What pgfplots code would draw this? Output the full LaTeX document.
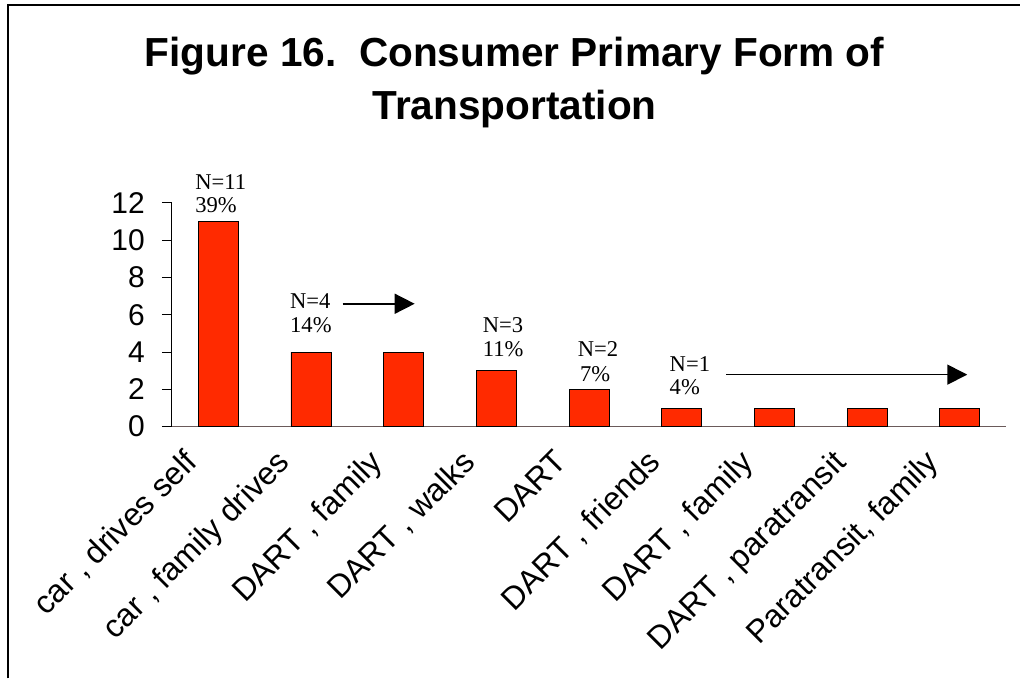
\documentclass[border=0pt]{standalone}
\usepackage{fontspec}
\setmainfont{Liberation Sans}
\newfontfamily\timesfont{Liberation Serif}
\usepackage{pgfplots}
\pgfplotsset{compat=1.18}
\usetikzlibrary{arrows.meta}

\definecolor{barred}{HTML}{FF2A00}
\definecolor{axisgray}{HTML}{6A5A5A}

\begin{document}
\begin{tikzpicture}
% page = 1021 x 679 px, 1px = 0.5pt, origin top left
\path (0,0) rectangle (510.5pt,-339.5pt);
\draw[line width=0.8pt] (3.9pt,-339.5pt) -- (3.9pt,-2.6pt) -- (510.5pt,-2.6pt);

\node[anchor=base, font=\fontsize{20.3}{24}\selectfont\bfseries] at (257.5pt,-33.5pt) {Figure 16.\ \ Consumer Primary Form of};
\node[anchor=base, font=\fontsize{20.3}{24}\selectfont\bfseries] at (257.5pt,-60pt) {Transportation};

\begin{axis}[
    at={(86pt,-213.5pt)}, anchor=origin,
    scale only axis,
    width=417.5pt, height=112pt,
    xmin=0.5, xmax=9.5,
    ymin=0, ymax=12,
    ytick={0,2,...,12},
    xtick={1,...,9},
    xticklabels={{car , drives self}, {car , family drives}, {DART , family}, {DART , walks}, DART, {DART , friends}, {DART , family}, {DART , paratransit}, {Paratransit, family}},
    minor xtick={0.5,1.5,...,9.5},
    xtick style={draw=none},
    axis x line*=bottom,
    axis y line*=left,
    axis line style={-, line width=0.6pt},
    x axis line style={draw=axisgray},
    tick align=outside,
    major tick length=5pt,
    minor tick length=5pt,
    tick style={line width=0.5pt, black},
    yticklabel style={font=\fontsize{15}{17}\selectfont, xshift=-5pt},
    xticklabel style={font=\fontsize{16}{18}\selectfont, xshift=-18pt, yshift=-4pt, rotate=45, anchor=north east, inner sep=1pt},
    /pgf/number format/assume math mode=true,
    ybar, bar width=20pt,
    clip=false,
]
\addplot[fill=barred, draw=black, line width=0.4pt] coordinates {
    (1,11) (2,4) (3,4) (4,3) (5,2) (6,1) (7,1) (8,1) (9,1)
};

\begin{scope}[font=\timesfont\fontsize{11.3}{13}\selectfont]
\node[anchor=base west, inner sep=0pt] at (axis cs:0.748,12.69) {N=11};
\node[anchor=base west, inner sep=0pt] at (axis cs:0.748,11.46) {39\%};
\node[anchor=base west, inner sep=0pt] at (axis cs:1.772,6.32) {N=4};
\node[anchor=base west, inner sep=0pt] at (axis cs:1.772,5.03) {14\%};
\node[anchor=base west, inner sep=0pt] at (axis cs:3.851,5.03) {N=3};
\node[anchor=base west, inner sep=0pt] at (axis cs:3.851,3.75) {11\%};
\node[anchor=base west, inner sep=0pt] at (axis cs:4.875,3.75) {N=2};
\node[anchor=base west, inner sep=0pt] at (axis cs:4.90,2.41) {7\%};
\node[anchor=base west, inner sep=0pt] at (axis cs:5.866,2.95) {N=1};
\node[anchor=base west, inner sep=0pt] at (axis cs:5.866,1.71) {4\%};
\end{scope}
\draw[line width=0.8pt, -{Triangle[length=10pt,width=10pt]}] (axis cs:2.343,6.59) -- (axis cs:3.119,6.59);
\draw[line width=0.8pt, -{Triangle[length=10pt,width=10pt]}] (axis cs:6.48,2.79) -- (axis cs:9.08,2.79);
\end{axis}
\end{tikzpicture}
\end{document}
